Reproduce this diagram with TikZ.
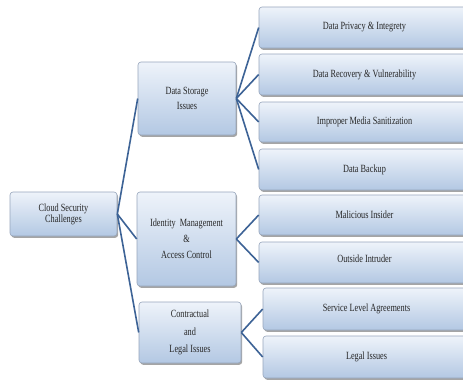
\documentclass[tikz,border=0pt]{standalone}
\usepackage{fontspec}
\setmainfont{Liberation Serif}[FakeStretch=0.75]
\usetikzlibrary{shadows}
\definecolor{boxtop}{HTML}{EEF3FA}
\definecolor{boxbot}{HTML}{B3C8E3}
\definecolor{boxline}{HTML}{97A6BC}
\definecolor{conn}{HTML}{3D6396}
\begin{document}
\begin{tikzpicture}[x=1pt,y=-1pt,
  box/.style={draw=boxline, line width=0.6pt, rounded corners=3pt,
    top color=boxtop, bottom color=boxbot, inner sep=0pt, align=center,
    text=black!85, font=\fontsize{11}{12}\selectfont,
    drop shadow={shadow xshift=1.2pt, shadow yshift=-1.8pt, opacity=0.5, fill=black!70}},
  leaf/.style={box, minimum width=211pt},
  conn/.style={draw=conn, line width=1.6pt}]
\useasboundingbox (0,0) rectangle (463,381);
\clip (0,0) rectangle (463,381);
\fill[white] (0,0) rectangle (463,381);
% main boxes
\node[box, minimum width=107pt, minimum height=44pt] (cloud) at (63.5,214) {Cloud Security\\[-1pt]Challenges};
\node[box, minimum width=98pt, minimum height=73pt] (ds) at (187,98.5) {Data Storage\\[3pt]Issues};
\node[box, minimum width=99pt, minimum height=94pt] (id) at (186.5,239) {Identity\ \ Management\\[4pt]\&\\[4pt]Access Control};
\node[box, minimum width=102pt, minimum height=61pt] (ct) at (190,332.5) {Contractual\\[5.5pt]and\\[5.5pt]Legal Issues};
% leaves
\node[leaf, minimum height=41pt] (r1) at (364.5,27.5) {Data Privacy \& Integrety};
\node[leaf, minimum height=41pt] (r2) at (364.5,74.5) {Data Recovery \& Vulnerability};
\node[leaf, minimum height=40pt] (r3) at (364.5,122) {Improper Media Sanitization};
\node[leaf, minimum height=41pt] (r4) at (364.5,169.5) {Data Backup};
\node[leaf, minimum height=40pt] (r5) at (364.5,215) {Malicious Insider};
\node[leaf, minimum height=41pt] (r6) at (364.5,262.5) {\raisebox{7pt}{Outside Intruder}};
\node[leaf, minimum width=207pt, minimum height=42pt] (r7) at (366.5,309) {Service Level Agreements};
\node[leaf, minimum width=207pt, minimum height=42pt] (r8) at (366.5,357) {Legal Issues};
% connectors
\foreach \t in {ds,id,ct} \draw[conn] (cloud.east) -- (\t.west);
\foreach \t in {r1,r2,r3,r4} \draw[conn] (ds.east) -- (\t.west);
\foreach \t in {r5,r6} \draw[conn] (id.east) -- (\t.west);
\foreach \t in {r7,r8} \draw[conn] (ct.east) -- (\t.west);
\end{tikzpicture}
\end{document}
